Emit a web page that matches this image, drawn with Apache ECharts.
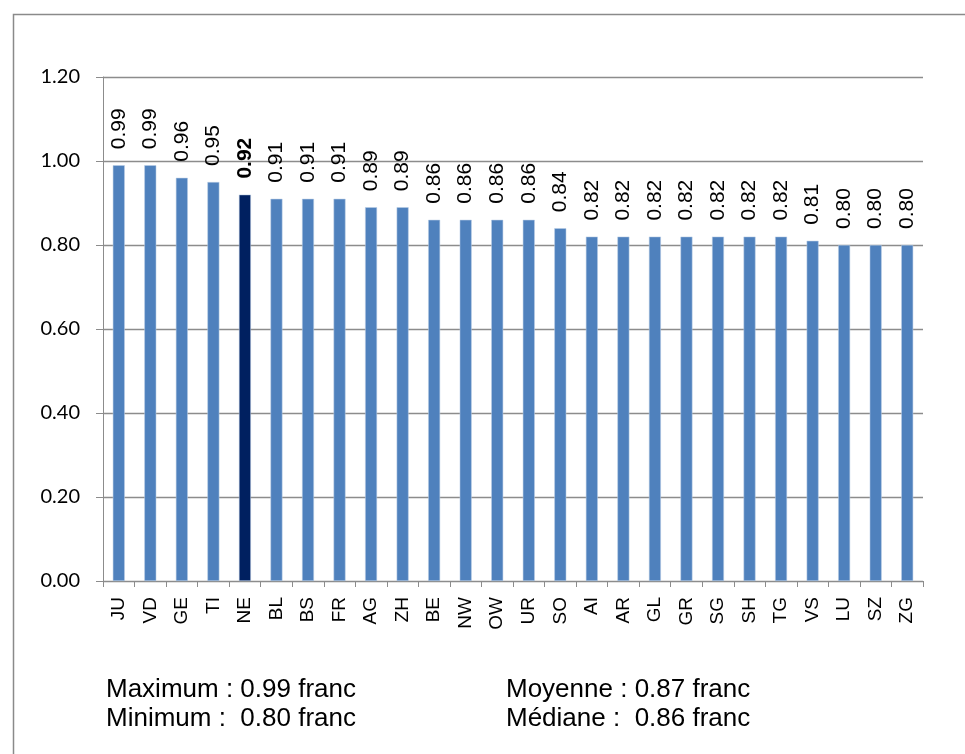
<!DOCTYPE html>
<html>
<head>
<meta charset="utf-8">
<script src="https://cdn.jsdelivr.net/npm/echarts@6/dist/echarts.min.js"></script>
<style>
  html, body { margin: 0; padding: 0; background: #fff; }
  #chart { width: 965px; height: 754px; }
</style>
</head>
<body>
<div id="chart"></div>
<script>
// Cantons and their values (franc)
const cantons = ['JU','VD','GE','TI','NE','BL','BS','FR','AG','ZH','BE','NW','OW','UR','SO','AI','AR','GL','GR','SG','SH','TG','VS','LU','SZ','ZG'];
const values  = [0.99,0.99,0.96,0.95,0.92,0.91,0.91,0.91,0.89,0.89,0.86,0.86,0.86,0.86,0.84,0.82,0.82,0.82,0.82,0.82,0.82,0.82,0.81,0.80,0.80,0.80];
const highlighted = 'NE';
const yTicks = [0, 0.2, 0.4, 0.6, 0.8, 1.0, 1.2];

const summaryLeft  = ['Maximum : 0.99 franc', 'Minimum :  0.80 franc'];
const summaryRight = ['Moyenne : 0.87 franc', 'Médiane :  0.86 franc'];

const BLUE = '#4f81bd';
const NAVY = '#002060';
const GRID = '#8c8c8c';

const seriesData = cantons.map((c, i) => {
  const hi = c === highlighted;
  return {
    value: values[i],
    itemStyle: { color: hi ? NAVY : BLUE },
    label: { fontWeight: hi ? 'bold' : 'normal' }
  };
});

const chart = echarts.init(document.getElementById('chart'));
chart.setOption({
  animation: false,
  backgroundColor: '#fff',
  grid: { left: 103, right: 42, top: 77, bottom: 173, containLabel: false },
  xAxis: {
    type: 'category',
    data: cantons,
    boundaryGap: true,
    axisLine: { lineStyle: { color: GRID, width: 1 } },
    axisTick: { show: true, length: 6, lineStyle: { color: GRID } },
    axisLabel: {
      rotate: 90,
      margin: 16,
      color: '#000',
      fontFamily: 'Liberation Sans',
      fontSize: 19
    }
  },
  yAxis: {
    type: 'value',
    min: yTicks[0],
    max: yTicks[yTicks.length - 1],
    interval: 0.2,
    axisLine: { show: true, lineStyle: { color: GRID, width: 1 } },
    axisTick: { show: true, length: 7, lineStyle: { color: GRID } },
    splitLine: { show: true, lineStyle: { color: GRID, width: 1.3 } },
    axisLabel: {
      margin: 23,
      color: '#000',
      fontFamily: 'Lato',
      fontSize: 20,
      formatter: v => v.toFixed(2)
    }
  },
  series: [{
    type: 'bar',
    data: seriesData,
    barWidth: 12,
    itemStyle: { borderColor: 'rgba(185,205,229,0.9)', borderWidth: 0.6 },
    label: {
      show: true,
      position: 'top',
      distance: 16,
      rotate: 90,
      align: 'left',
      verticalAlign: 'middle',
      color: '#000',
      fontFamily: 'Liberation Sans',
      fontSize: 21,
      formatter: p => p.value.toFixed(2)
    }
  }],
  graphic: [
    {
      type: 'rect',
      silent: true,
      shape: { x: 13.5, y: 14.5, width: 1000, height: 800 },
      style: { fill: 'none', stroke: '#8a8a8a', lineWidth: 1.5 }
    },
    {
      type: 'text', left: 106, top: 675,
      style: { text: summaryLeft.join('\n'), font: '26px "Liberation Sans"', fill: '#000', lineHeight: 29 }
    },
    {
      type: 'text', left: 506, top: 675,
      style: { text: summaryRight.join('\n'), font: '26px "Liberation Sans"', fill: '#000', lineHeight: 29 }
    }
  ]
});
</script>
</body>
</html>
